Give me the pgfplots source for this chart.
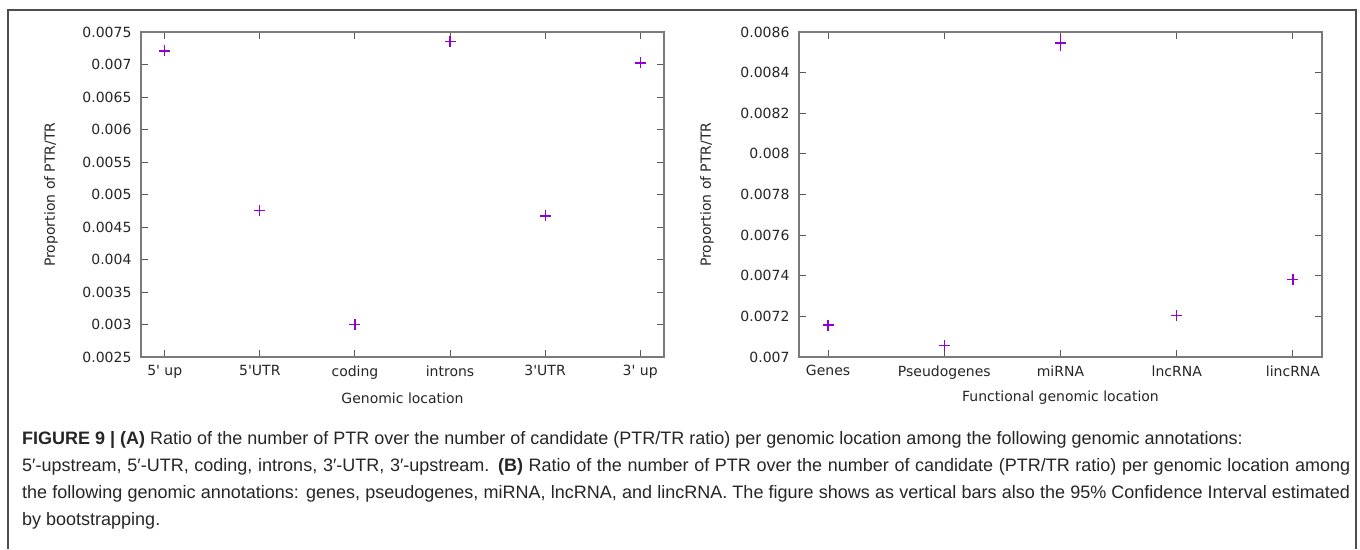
\documentclass[border=0pt]{standalone}
\usepackage{fontspec}
\setmainfont{DejaVu Sans}
\newfontfamily\capfont{Liberation Sans}
\usepackage{pgfplots}
\pgfplotsset{compat=1.18}
\usepackage{pgfplotstable}
\definecolor{gpviolet}{HTML}{9400D3}
\definecolor{axgray}{HTML}{7A7A7A}
\definecolor{framegray}{HTML}{4D4D4D}

\pgfplotstableread{
x y e
0 0.007208 0.00001
1 0.004752 0.00001
2 0.003002 0.00001
3 0.007352 0.00001
4 0.004670 0.00001
5 0.007024 0.00001
}\tableA
\pgfplotstableread{
x y e
0 0.007157 0.000003
1 0.007056 0.000007
2 0.008546 0.000020
3 0.007203 0.000003
4 0.007380 0.000005
}\tableB

\pgfplotsset{gp/.style={
  scale only axis, width=523pt, height=325pt,
  anchor=south west,
  axis line style={axgray, line width=1.2pt},
  tick style={color=black!65, line width=1pt},
  major tick length=7pt,
  tick pos=both, tick align=inside,
  ticklabel style={font=\fontsize{14}{16}\selectfont, text=black!85},
  label style={font=\fontsize{14}{16}\selectfont, text=black!85},
  xticklabel style={yshift=-5pt},
  yticklabel style={xshift=-6pt},
  scaled y ticks=false,
  clip=false,
}}

\begin{document}
\begin{tikzpicture}
\path[use as bounding box] (0,0) rectangle (1360pt,-549pt);
\fill[white] (0,0) rectangle (1360pt,-549pt);
\draw[framegray, line width=1.2pt] (8pt,-549pt) -- (8pt,-10pt) -- (1356pt,-10pt) -- (1356pt,-549pt);

\begin{axis}[gp, at={(141pt,-357pt)},
  xmin=-0.25, xmax=5.25, ymin=0.0025, ymax=0.0075,
  xtick={0,1,2,3,4,5},
  xticklabels={5\textquotesingle{} up,5\textquotesingle{}UTR,coding,introns,3\textquotesingle{}UTR,3\textquotesingle{} up},
  ytick={0.0025,0.003,0.0035,0.004,0.0045,0.005,0.0055,0.006,0.0065,0.007,0.0075},
  yticklabels={0.0025,0.003,0.0035,0.004,0.0045,0.005,0.0055,0.006,0.0065,0.007,0.0075},
  xlabel={Genomic location},
  ylabel={Proportion of PTR/TR},
  xlabel style={at={(axis description cs:0.5,-0.126)}, anchor=center},
  ylabel style={at={(axis description cs:-0.172,0.5)}, anchor=center},
]
\addplot[only marks, mark=+, mark size=5.5pt, color=gpviolet, line width=1.25pt,
  mark options={color=gpviolet},
  error bars/.cd, y dir=both, y explicit,
  error bar style={line width=1.25pt, color=gpviolet},
  error mark options={color=gpviolet, mark size=4pt, line width=1.25pt}]
  table[x=x, y=y, y error=e]{\tableA};
\end{axis}

\begin{axis}[gp, at={(799pt,-357pt)},
  xmin=-0.25, xmax=4.25, ymin=0.007, ymax=0.0086,
  xtick={0,1,2,3,4},
  xticklabels={Genes,Pseudogenes,miRNA,lncRNA,lincRNA},
  ytick={0.007,0.0072,0.0074,0.0076,0.0078,0.008,0.0082,0.0084,0.0086},
  yticklabels={0.007,0.0072,0.0074,0.0076,0.0078,0.008,0.0082,0.0084,0.0086},
  xlabel={Functional genomic location},
  ylabel={Proportion of PTR/TR},
  xlabel style={at={(axis description cs:0.5,-0.126)}, anchor=center},
  ylabel style={at={(axis description cs:-0.176,0.5)}, anchor=center},
]
\addplot[only marks, mark=+, mark size=5.5pt, color=gpviolet, line width=1.25pt,
  mark options={color=gpviolet},
  error bars/.cd, y dir=both, y explicit,
  error bar style={line width=1.25pt, color=gpviolet},
  error mark options={color=gpviolet, mark size=4pt, line width=1.25pt}]
  table[x=x, y=y, y error=e]{\tableB};
\end{axis}

\begin{scope}[every node/.style={anchor=base west, inner sep=0pt, text=black!85, font=\capfont\fontsize{18}{20}\selectfont}]
\node at (22pt,-444pt) {\textbf{FIGURE 9 | (A)} Ratio of the number of PTR over the number of candidate (PTR/TR ratio) per genomic location among the following genomic annotations:};
\node at (22pt,-471pt) {\makebox[1328pt][s]{5′-upstream, 5′-UTR, coding, introns, 3′-UTR, 3′-upstream. \textbf{(B)} Ratio of the number of PTR over the number of candidate (PTR/TR ratio) per genomic location among}};
\node at (22pt,-498pt) {\makebox[1328pt][s]{the following genomic annotations: genes, pseudogenes, miRNA, lncRNA, and lincRNA. The figure shows as vertical bars also the 95\% Confidence Interval estimated}};
\node at (22pt,-525pt) {by bootstrapping.};
\end{scope}
\end{tikzpicture}
\end{document}
